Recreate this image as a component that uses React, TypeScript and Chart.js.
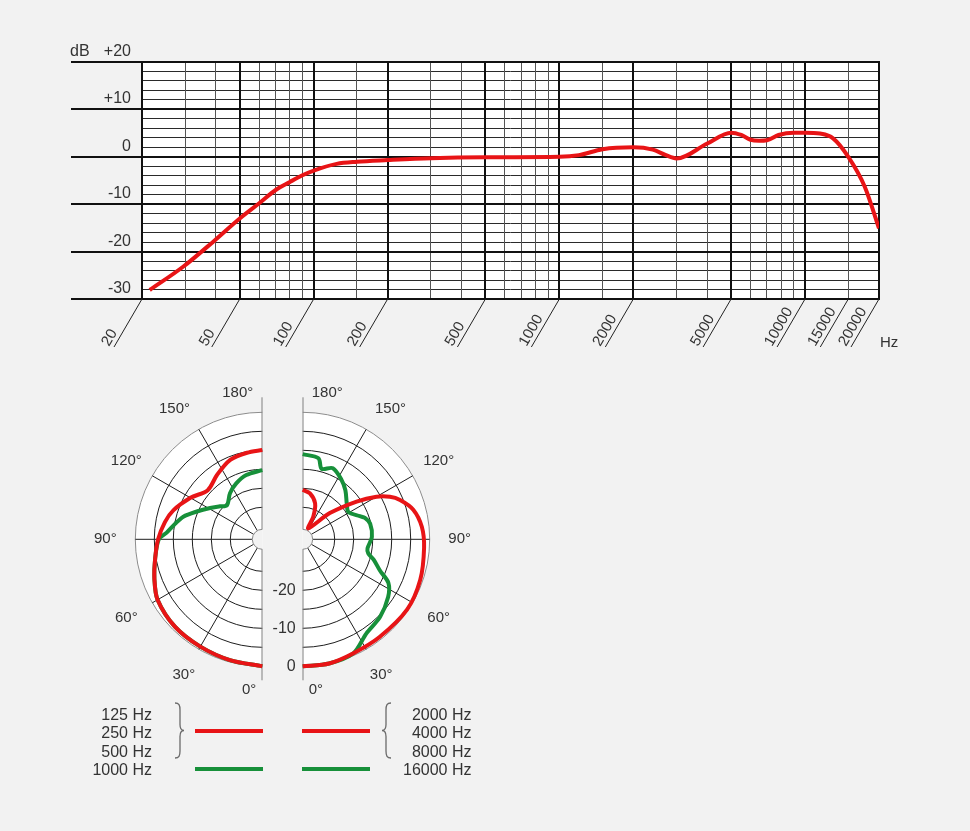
import React, { useEffect, useRef } from "react";
import { Chart, registerables } from "chart.js";

Chart.register(...registerables);

const BG = "#f2f2f2";
const RED = "#e81416";
const GREEN = "#17903a";
const TEXT = "#333333";
const FONT = '"Liberation Sans", Arial, Helvetica, sans-serif';

// ---------- Frequency response ----------
const RESPONSE_FREQ = [21.5, 29.4, 39, 50, 60, 70, 80, 90, 100, 124, 150, 200, 300, 500, 1000, 1200, 1500, 2000, 2400, 2700, 3000, 4000, 5000, 5500, 6000, 6500, 7000, 7800, 9000, 10000, 11500, 13000, 15000, 17500, 20000];
const RESPONSE_DB = [-28.1, -23.2, -17.9, -13.0, -9.8, -7.0, -5.3, -3.9, -2.9, -1.5, -1.05, -0.7, -0.3, -0.1, 0, 0.35, 1.6, 2.0, 1.5, 0.4, -0.35, 2.8, 5.1, 4.6, 3.6, 3.4, 3.5, 4.6, 5.1, 5.1, 4.9, 3.9, 0, -6.3, -15.1];
const GRID_FREQS = [20, 30, 40, 50, 60, 70, 80, 90, 100, 150, 200, 300, 400, 500, 600, 700, 800, 900, 1000, 1500, 2000, 3000, 4000, 5000, 6000, 7000, 8000, 9000, 10000, 15000, 20000];
const MAJOR_FREQS = [20, 50, 100, 200, 500, 1000, 2000, 5000, 10000, 20000];
const FREQ_TICK_LABELS = [20, 50, 100, 200, 500, 1000, 2000, 5000, 10000, 15000, 20000];
const DB_TICKS = [20, 10, 0, -10, -20, -30];
const DB_MIN = -30;
const DB_MAX = 20;
const DB_MINOR_STEP = 2;
const FREQ_MIN = 20;
const FREQ_MAX = 20000;

// ---------- Polar patterns (angle in degrees, level in dB) ----------
const POLAR_ANGLE_TICKS = [0, 30, 60, 90, 120, 150, 180];
const POLAR_RING_DB = [0, -5, -10, -15, -20, -25];
const POLAR_DB_LABELS = [0, -10, -20];

const LOW_RED_ANGLE = [0, 15, 30, 45, 60, 70, 80, 90, 100, 108, 120, 132, 145, 158, 170, 180];
const LOW_RED_DB = [0, -0.5, -0.8, -0.9, -1.6, -3.2, -4.8, -6.0, -7.4, -8.8, -11.6, -14.1, -12.7, -10.9, -10.3, -9.9];

const LOW_GREEN_ANGLE = [0, 15, 30, 45, 60, 70, 80, 90, 94, 100, 106, 113, 121, 128, 134, 145, 155, 166, 180];
const LOW_GREEN_DB = [0, -0.5, -0.8, -0.9, -1.6, -3.2, -4.8, -6.2, -8.2, -10.1, -11.8, -14.7, -17.4, -19.3, -20.5, -18.6, -17.2, -16.0, -15.2];

const HIGH_RED_ANGLE = [0, 12, 24, 38, 56, 71, 86, 96, 105, 112, 116, 120, 125, 134, 153, 155, 161, 171, 180];
const HIGH_RED_DB = [0, 0, -0.6, -0.7, -0.3, -0.7, -1.4, -1.9, -3.3, -5.8, -7.9, -11.0, -16.1, -23.5, -30.2, -26.8, -23.4, -21.2, -20.4];

const HIGH_GREEN_ANGLE = [0, 12, 24, 34, 45, 56, 63, 68, 74, 78, 82, 92, 103, 109, 112, 121, 129, 139, 147, 157, 165, 169, 180];
const HIGH_GREEN_DB = [0, 0, -0.6, -3.5, -4.6, -6.3, -8.1, -11.5, -14.0, -15.8, -16.2, -15.2, -15.2, -16.1, -17.2, -19.4, -18.5, -16.3, -14.7, -13.1, -14.2, -11.7, -11.0];

const LEGEND_LOW_RED = ["125 Hz", "250 Hz", "500 Hz"];
const LEGEND_LOW_GREEN = ["1000 Hz"];
const LEGEND_HIGH_RED = ["2000 Hz", "4000 Hz", "8000 Hz"];
const LEGEND_HIGH_GREEN = ["16000 Hz"];

// ---------- layout constants ----------
const FREQ_CANVAS = { left: 0, top: 0, width: 970, height: 370 };
const FREQ_PAD = { left: 142, right: 91, top: 62, bottom: 71 };
const POLAR_CANVAS = { left: 62, top: 379, width: 440, height: 420 };
const POLAR_CENTER = { x: 282.5, y: 539.3 }; // page position of the pair's centre
const POLAR_R0 = 127; // radius (px units) of the 0 dB ring
const POLAR_DB_STEP = 3.8; // px per dB
const POLAR_HALF_GAP = 20.2;
const POLAR_HOLE = 10;
const POLAR_AXIS_EXT = 142;

function polarXY(angles: number[], dbs: number[], side: number) {
  return angles.map((a, i) => {
    const r = POLAR_R0 + POLAR_DB_STEP * dbs[i];
    const t = (a * Math.PI) / 180;
    return { x: side * (POLAR_HALF_GAP + r * Math.sin(t)), y: -r * Math.cos(t) };
  });
}

function snap(v: number, w: number) {
  return w % 2 === 1 ? Math.round(v - 0.5) + 0.5 : Math.round(v);
}

const freqPlugin = {
  id: "freqGrid",
  beforeDatasetsDraw(chart: any) {
    const { ctx, chartArea: a } = chart;
    const xs = chart.scales.x;
    const ys = chart.scales.y;
    ctx.save();
    ctx.fillStyle = "#ffffff";
    ctx.fillRect(a.left, a.top, a.right - a.left, a.bottom - a.top);
    const hline = (y: number, x1: number, x2: number, w: number, c: string) => {
      const yy = snap(y, w);
      ctx.beginPath();
      ctx.moveTo(x1, yy);
      ctx.lineTo(x2, yy);
      ctx.lineWidth = w;
      ctx.strokeStyle = c;
      ctx.stroke();
    };
    const vline = (x: number, y1: number, y2: number, w: number, c: string) => {
      const xx = snap(x, w);
      ctx.beginPath();
      ctx.moveTo(xx, y1);
      ctx.lineTo(xx, y2);
      ctx.lineWidth = w;
      ctx.strokeStyle = c;
      ctx.stroke();
    };
    for (let v = DB_MIN; v <= DB_MAX; v += DB_MINOR_STEP) {
      if (DB_TICKS.includes(v)) continue;
      hline(ys.getPixelForValue(v), a.left, a.right, 1, "#2a2a2a");
    }
    GRID_FREQS.forEach((f) => {
      if (!MAJOR_FREQS.includes(f)) vline(xs.getPixelForValue(f), a.top, a.bottom, 1, "#555555");
    });
    MAJOR_FREQS.forEach((f) => vline(xs.getPixelForValue(f), a.top - 1, a.bottom + 1, 2, "#111111"));
    DB_TICKS.forEach((v) => hline(ys.getPixelForValue(v), 71, a.right + 1, 2, "#111111"));
    ctx.restore();
  },
  afterDraw(chart: any) {
    const { ctx, chartArea: a } = chart;
    const xs = chart.scales.x;
    const ys = chart.scales.y;
    ctx.save();
    ctx.fillStyle = TEXT;
    ctx.font = `16px ${FONT}`;
    ctx.textBaseline = "alphabetic";
    ctx.textAlign = "right";
    DB_TICKS.forEach((v) => {
      const label = v > 0 ? `+${v}` : `${v}`;
      ctx.fillText(label, a.left - 11, ys.getPixelForValue(v) - 6);
    });
    ctx.textAlign = "left";
    ctx.fillText("dB", 70, ys.getPixelForValue(DB_MAX) - 6);

    // diagonal frequency labels
    ctx.strokeStyle = "#222";
    ctx.lineWidth = 1;
    ctx.font = `15px ${FONT}`;
    FREQ_TICK_LABELS.forEach((f) => {
      const x0 = xs.getPixelForValue(f);
      const y0 = a.bottom;
      ctx.beginPath();
      ctx.moveTo(x0, y0);
      ctx.lineTo(x0 - 28, y0 + 48);
      ctx.stroke();
      ctx.save();
      ctx.translate(x0 - 33, y0 + 48);
      ctx.rotate(-Math.PI / 3);
      ctx.textAlign = "left";
      ctx.fillText(String(f), 0, 0);
      ctx.restore();
    });
    ctx.textAlign = "left";
    ctx.fillText("Hz", a.right + 1, a.bottom + 48);
    ctx.restore();
  },
};

function drawBrace(ctx: CanvasRenderingContext2D, x0: number, x1: number, top: number, bottom: number) {
  const d = Math.sign(x1 - x0);
  const mid = (top + bottom) / 2;
  const xs = x0 + d * 5;
  ctx.beginPath();
  ctx.moveTo(x0, top);
  ctx.bezierCurveTo(x0 + d * 4, top, xs, top + 2, xs, top + 7);
  ctx.lineTo(xs, mid - 6);
  ctx.bezierCurveTo(xs, mid - 2, xs + d * 2, mid, x1, mid);
  ctx.bezierCurveTo(xs + d * 2, mid, xs, mid + 2, xs, mid + 6);
  ctx.lineTo(xs, bottom - 7);
  ctx.bezierCurveTo(xs, bottom - 2, x0 + d * 4, bottom, x0, bottom);
  ctx.stroke();
}

const polarPlugin = {
  id: "polarGrid",
  beforeDatasetsDraw(chart: any) {
    const { ctx } = chart;
    const xs = chart.scales.x;
    const ys = chart.scales.y;
    const k = xs.getPixelForValue(1) - xs.getPixelForValue(0);
    const cy = ys.getPixelForValue(0);
    ctx.save();
    [-1, 1].forEach((side) => {
      const cx = xs.getPixelForValue(side * POLAR_HALF_GAP);
      const R = POLAR_R0 * k;
      const a0 = side < 0 ? Math.PI / 2 : -Math.PI / 2;
      const a1 = side < 0 ? Math.PI * 1.5 : Math.PI / 2;
      ctx.beginPath();
      ctx.arc(cx, cy, R, a0, a1);
      ctx.closePath();
      ctx.fillStyle = "#ffffff";
      ctx.fill();
      POLAR_RING_DB.forEach((db) => {
        const r = (POLAR_R0 + POLAR_DB_STEP * db) * k;
        ctx.beginPath();
        ctx.arc(cx, cy, r, a0, a1);
        ctx.strokeStyle = db === 0 ? "#8c8c8c" : "#1e1e1e";
        ctx.lineWidth = 1;
        ctx.stroke();
      });
      POLAR_ANGLE_TICKS.filter((d) => d > 0 && d < 180).forEach((deg) => {
        const t = (deg * Math.PI) / 180;
        const r1 = POLAR_HOLE * k;
        const r2 = R;
        ctx.beginPath();
        ctx.moveTo(cx + side * r1 * Math.sin(t), cy + r1 * Math.cos(t));
        ctx.lineTo(cx + side * r2 * Math.sin(t), cy + r2 * Math.cos(t));
        ctx.strokeStyle = "#1e1e1e";
        ctx.lineWidth = 1;
        ctx.stroke();
      });
      ctx.beginPath();
      ctx.arc(cx, cy, POLAR_HOLE * k, a0, a1);
      ctx.closePath();
      ctx.fillStyle = BG;
      ctx.fill();
      ctx.beginPath();
      ctx.arc(cx, cy, POLAR_HOLE * k, a0, a1);
      ctx.strokeStyle = "#8a8a8a";
      ctx.stroke();
      const ex = Math.round(cx);
      ctx.beginPath();
      ctx.moveTo(ex, cy - POLAR_AXIS_EXT * k);
      ctx.lineTo(ex, cy - POLAR_HOLE * k);
      ctx.moveTo(ex, cy + POLAR_HOLE * k);
      ctx.lineTo(ex, cy + (POLAR_AXIS_EXT - 1) * k);
      ctx.strokeStyle = "#808080";
      ctx.lineWidth = 1;
      ctx.stroke();
    });
    ctx.restore();
  },
  afterDraw(chart: any) {
    const { ctx } = chart;
    const xs = chart.scales.x;
    const ys = chart.scales.y;
    const k = xs.getPixelForValue(1) - xs.getPixelForValue(0);
    const cy = ys.getPixelForValue(0);
    ctx.save();
    ctx.fillStyle = TEXT;
    ctx.font = `15px ${FONT}`;
    [-1, 1].forEach((side) => {
      const cx = xs.getPixelForValue(side * POLAR_HALF_GAP);
      POLAR_ANGLE_TICKS.forEach((deg) => {
        const label = `${deg}°`;
        if (deg === 180 || deg === 0) {
          ctx.textAlign = side < 0 ? "right" : "left";
          ctx.textBaseline = "middle";
          const off = deg === 180 ? 9 : 6;
          const yy = deg === 180 ? cy - 146 * k : cy + 151 * k;
          ctx.fillText(label, cx + side * off * k, yy);
          return;
        }
        const t = ((deg === 150 ? 146 : deg) * Math.PI) / 180;
        const r = 157 * k;
        ctx.textAlign = "center";
        ctx.textBaseline = "middle";
        ctx.fillText(label, cx + side * r * Math.sin(t), cy + r * Math.cos(t));
      });
    });
    ctx.font = `16px ${FONT}`;
    ctx.textAlign = "right";
    ctx.textBaseline = "middle";
    const cxr = xs.getPixelForValue(POLAR_HALF_GAP);
    POLAR_DB_LABELS.forEach((db) => {
      const r = (POLAR_R0 + POLAR_DB_STEP * db) * k;
      ctx.fillText(`${db}`, cxr - 7 * k, cy + r);
    });

    const px = (x: number) => x - POLAR_CANVAS.left;
    const py = (y: number) => y - POLAR_CANVAS.top;
    const rows = [720, 738.3, 756.6, 775];
    ctx.font = `16px ${FONT}`;
    ctx.textBaseline = "alphabetic";
    ctx.textAlign = "right";
    [...LEGEND_LOW_RED, ...LEGEND_LOW_GREEN].forEach((t, i) => ctx.fillText(t, px(152), py(rows[i])));
    [...LEGEND_HIGH_RED, ...LEGEND_HIGH_GREEN].forEach((t, i) => ctx.fillText(t, px(471.5), py(rows[i])));
    ctx.lineWidth = 4;
    ctx.lineCap = "butt";
    ctx.strokeStyle = RED;
    ctx.beginPath();
    ctx.moveTo(px(195), py(731));
    ctx.lineTo(px(263), py(731));
    ctx.moveTo(px(302), py(731));
    ctx.lineTo(px(370), py(731));
    ctx.stroke();
    ctx.strokeStyle = GREEN;
    ctx.beginPath();
    ctx.moveTo(px(195), py(769));
    ctx.lineTo(px(263), py(769));
    ctx.moveTo(px(302), py(769));
    ctx.lineTo(px(370), py(769));
    ctx.stroke();
    ctx.strokeStyle = "#6a6a6a";
    ctx.lineWidth = 1.3;
    drawBrace(ctx, px(175), px(184), py(703), py(758));
    drawBrace(ctx, px(391), px(382), py(703), py(758));
    ctx.restore();
  },
};

function FrequencyChart() {
  const ref = useRef<HTMLCanvasElement>(null);
  useEffect(() => {
    const chart = new Chart(ref.current as HTMLCanvasElement, {
      type: "line",
      data: {
        datasets: [
          {
            data: RESPONSE_FREQ.map((f, i) => ({ x: f, y: RESPONSE_DB[i] })),
            borderColor: RED,
            borderWidth: 4,
            pointRadius: 0,
            cubicInterpolationMode: "monotone",
            fill: false,
          },
        ],
      },
      options: {
        animation: false,
        responsive: false,
        events: [],
        layout: { padding: FREQ_PAD },
        plugins: { legend: { display: false }, tooltip: { enabled: false } },
        scales: {
          x: { type: "logarithmic", min: FREQ_MIN, max: FREQ_MAX, display: false },
          y: { type: "linear", min: DB_MIN, max: DB_MAX, display: false },
        },
      },
      plugins: [freqPlugin],
    } as any);
    return () => chart.destroy();
  }, []);
  return (
    <canvas
      ref={ref}
      width={FREQ_CANVAS.width}
      height={FREQ_CANVAS.height}
      style={{ position: "absolute", left: FREQ_CANVAS.left, top: FREQ_CANVAS.top, width: FREQ_CANVAS.width, height: FREQ_CANVAS.height }}
    />
  );
}

function PolarChart() {
  const ref = useRef<HTMLCanvasElement>(null);
  useEffect(() => {
    const xMin = POLAR_CANVAS.left - POLAR_CENTER.x;
    const yMax = POLAR_CENTER.y - POLAR_CANVAS.top;
    const common = { showLine: true, pointRadius: 0, borderWidth: 4, tension: 0.3, fill: false };
    const chart = new Chart(ref.current as HTMLCanvasElement, {
      type: "scatter",
      data: {
        datasets: [
          { ...common, label: "125/250/500 Hz", data: polarXY(LOW_RED_ANGLE, LOW_RED_DB, -1), borderColor: RED },
          { ...common, label: "2000/4000/8000 Hz", data: polarXY(HIGH_RED_ANGLE, HIGH_RED_DB, 1), borderColor: RED },
          { ...common, label: "1000 Hz", data: polarXY(LOW_GREEN_ANGLE, LOW_GREEN_DB, -1), borderColor: GREEN },
          { ...common, label: "16000 Hz", data: polarXY(HIGH_GREEN_ANGLE, HIGH_GREEN_DB, 1), borderColor: GREEN },
        ],
      },
      options: {
        animation: false,
        responsive: false,
        events: [],
        layout: { padding: 0 },
        plugins: { legend: { display: false }, tooltip: { enabled: false } },
        scales: {
          x: { type: "linear", min: xMin, max: xMin + POLAR_CANVAS.width, display: false },
          y: { type: "linear", min: yMax - POLAR_CANVAS.height, max: yMax, display: false },
        },
      },
      plugins: [polarPlugin],
    } as any);
    return () => chart.destroy();
  }, []);
  return (
    <canvas
      ref={ref}
      width={POLAR_CANVAS.width}
      height={POLAR_CANVAS.height}
      style={{ position: "absolute", left: POLAR_CANVAS.left, top: POLAR_CANVAS.top, width: POLAR_CANVAS.width, height: POLAR_CANVAS.height }}
    />
  );
}

export default function App() {
  return (
    <div style={{ position: "absolute", left: 0, top: 0, width: 970, height: 831, background: BG, overflow: "hidden" }}>
      <FrequencyChart />
      <PolarChart />
    </div>
  );
}
